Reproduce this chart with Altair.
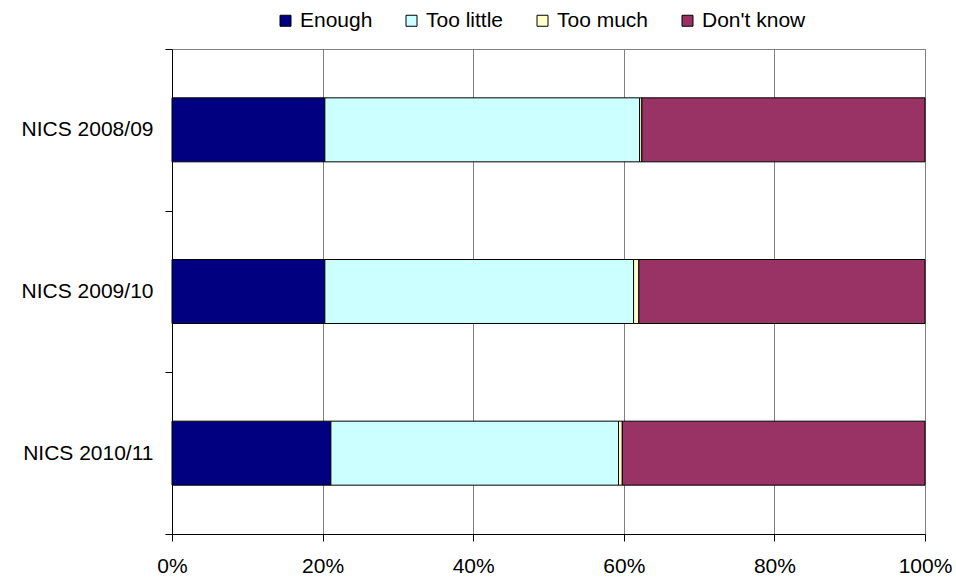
import altair as alt
import pandas as pd

# Survey waves (top to bottom) and response shares in percent
surveys = ["NICS 2008/09", "NICS 2009/10", "NICS 2010/11"]
responses = ["Enough", "Too little", "Too much", "Don't know"]
enough = [20.3, 20.3, 21.1]
too_little = [41.8, 41.0, 38.2]
too_much = [0.3, 0.7, 0.5]
dont_know = [37.6, 38.0, 40.2]
colors = ["#000080", "#CCFFFF", "#FFFFCC", "#993366"]
x_ticks = [0, 0.2, 0.4, 0.6, 0.8, 1.0]

rows = []
for i, s in enumerate(surveys):
    for j, (r, vals) in enumerate(zip(responses, [enough, too_little, too_much, dont_know])):
        rows.append({"survey": s, "response": r, "share": vals[i], "order": j})
df = pd.DataFrame(rows)

FONT = "Liberation Sans"
FONT_SIZE = 21

chart = (
    alt.Chart(df)
    .mark_bar(size=64, stroke="black", strokeWidth=1)
    .encode(
        x=alt.X(
            "share:Q",
            stack="normalize",
            scale=alt.Scale(domain=[0, 1], nice=False),
            axis=alt.Axis(
                title=None,
                format=".0%",
                values=x_ticks,
                grid=True,
                gridColor="#808080",
                gridWidth=1,
                domainColor="black",
                tickColor="black",
                tickSize=7,
                labelPadding=14,
                labelFlush=False,
                labelFont=FONT,
                labelFontSize=FONT_SIZE,
                labelColor="black",
            ),
        ),
        y=alt.Y(
            "survey:N",
            sort=surveys,
            scale=alt.Scale(paddingInner=0, paddingOuter=0),
            axis=alt.Axis(
                title=None,
                tickBand="extent",
                grid=False,
                domainColor="black",
                tickColor="black",
                tickSize=7,
                labelPadding=12,
                labelFont=FONT,
                labelFontSize=FONT_SIZE,
                labelColor="black",
            ),
        ),
        color=alt.Color(
            "response:N",
            sort=responses,
            scale=alt.Scale(domain=responses, range=colors),
            legend=alt.Legend(
                title=None,
                orient="none",
                direction="horizontal",
                legendX=103,
                legendY=-39,
                symbolType="square",
                symbolSize=121,
                symbolStrokeColor="black",
                symbolStrokeWidth=1,
                symbolOpacity=1,
                labelFont=FONT,
                labelFontSize=FONT_SIZE,
                labelColor="black",
                labelOffset=4,
                columnPadding=28,
            ),
        ),
        order=alt.Order("order:Q"),
    )
    .properties(
        width=753,
        height=485,
        autosize=alt.AutoSizeParams(type="none"),
        padding={"left": 172, "top": 49, "right": 31, "bottom": 45},
        background="white",
    )
    .configure_view(stroke="#808080", strokeWidth=1)
)

chart.save("out.html", embed_options={"renderer": "svg", "actions": False})
